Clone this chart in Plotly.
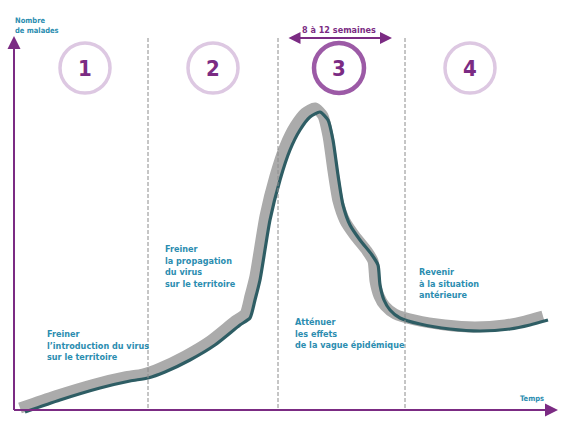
import plotly.graph_objects as go

# Epidemic curve (time, number of patients)
temps = [25, 60, 100, 130, 148, 165, 190, 215, 240, 250, 255, 260, 270, 280, 290, 300, 310, 320,
         328, 333, 338, 343, 350, 360, 372, 378, 380, 384, 390, 400, 420, 450, 480, 510, 530, 548]
malades = [12, 24, 36, 43, 46, 52, 64, 79, 99, 106, 124, 144, 204, 244, 274, 294, 307, 312,
           304, 284, 249, 219, 199, 184, 169, 159, 139, 124, 114, 106, 100, 95, 93, 95, 99, 104]

phases = ["1", "2", "3", "4"]
phase_centres = [85, 213, 339, 470]
separateurs = [148, 278, 405]
objectifs = [
    "Freiner<br>l’introduction du virus<br>sur le territoire",
    "Freiner<br>la propagation<br>du virus<br>sur le territoire",
    "Atténuer<br>les effets<br>de la vague épidémique",
    "Revenir<br>à la situation<br>antérieure",
]
objectif_x = [45, 163, 293, 417]
objectif_y = [97, 182, 109, 159]

purple = "#7b2b83"
light_purple = "#ddc8e2"
teal_text = "#2b8db0"
font_fam = "Liberation Sans Narrow, DejaVu Sans Condensed, Roboto Condensed, Roboto, sans-serif"

fig = go.Figure()

# grey ribbon (shadow)
fig.add_trace(go.Scatter(x=[t - 5 for t in temps], y=[m + 4 for m in malades], mode="lines",
                         line=dict(color="#ababab", width=11, shape="spline", smoothing=0.6),
                         hoverinfo="skip", showlegend=False))
fig.add_trace(go.Scatter(x=temps, y=malades, mode="lines",
                         line=dict(color="#2e5d64", width=3.2, shape="spline", smoothing=0.6),
                         hoverinfo="skip", showlegend=False))

shapes = []
for sx in separateurs:
    shapes.append(dict(type="line", x0=sx, x1=sx, y0=16, y1=386, xref="x", yref="y",
                       line=dict(color="#8c8c8c", width=1, dash="4px,2px")))
for p, cx in zip(phases, phase_centres):
    is3 = p == "3"
    r = 25
    shapes.append(dict(type="circle", x0=cx - r, x1=cx + r, y0=356 - r, y1=356 + r,
                       xref="x", yref="y",
                       line=dict(color="#9c5aa6" if is3 else light_purple, width=4.5 if is3 else 3.5)))
# axes
shapes.append(dict(type="line", x0=14, x1=14, y0=14, y1=380, xref="x", yref="y",
                   line=dict(color=purple, width=2)))
shapes.append(dict(type="line", x0=14, x1=550, y0=14, y1=14, xref="x", yref="y",
                   line=dict(color=purple, width=2)))

annotations = []
for p, cx in zip(phases, phase_centres):
    annotations.append(dict(x=cx, y=356, text="<b>%s</b>" % p, showarrow=False, xref="x", yref="y",
                            font=dict(family=font_fam, size=22, color=purple)))
for t, ox, oy in zip(objectifs, objectif_x, objectif_y):
    annotations.append(dict(x=ox, y=oy, text="<b>%s</b>" % t, showarrow=False, xref="x", yref="y",
                            xanchor="left", yanchor="top", align="left",
                            font=dict(family=font_fam, size=9, color=teal_text)))
annotations.append(dict(x=13, y=410, text="<b>Nombre<br>de malades</b>", showarrow=False,
                        xanchor="left", yanchor="top", align="left", xref="x", yref="y",
                        font=dict(family=font_fam, size=7.5, color=teal_text)))
annotations.append(dict(x=518, y=19, text="<b>Temps</b>", showarrow=False,
                        xanchor="left", yanchor="bottom", xref="x", yref="y",
                        font=dict(family=font_fam, size=7.5, color=teal_text)))
annotations.append(dict(x=339, y=394, text="<b>8 à 12 semaines</b>", showarrow=False,
                        xref="x", yref="y",
                        font=dict(family=font_fam, size=9, color=purple)))
# arrows
annotations.append(dict(x=14, y=388, ax=14, ay=374, xref="x", yref="y", axref="x", ayref="y",
                        showarrow=True, arrowhead=2, arrowsize=1.3, arrowwidth=2, arrowcolor=purple, text=""))
annotations.append(dict(x=558, y=14, ax=544, ay=14, xref="x", yref="y", axref="x", ayref="y",
                        showarrow=True, arrowhead=2, arrowsize=1.3, arrowwidth=2, arrowcolor=purple, text=""))
annotations.append(dict(x=392, y=386, ax=287, ay=386, xref="x", yref="y", axref="x", ayref="y",
                        showarrow=True, arrowhead=2, arrowside="end+start", arrowsize=1.2,
                        arrowwidth=2, arrowcolor=purple, text=""))

fig.update_layout(
    width=584, height=424, margin=dict(l=0, r=0, t=0, b=0),
    paper_bgcolor="white", plot_bgcolor="white",
    xaxis=dict(range=[0, 584], visible=False, fixedrange=True),
    yaxis=dict(range=[0, 424], visible=False, fixedrange=True),
    shapes=shapes, annotations=annotations, showlegend=False,
)

fig.write_html("out.html")
